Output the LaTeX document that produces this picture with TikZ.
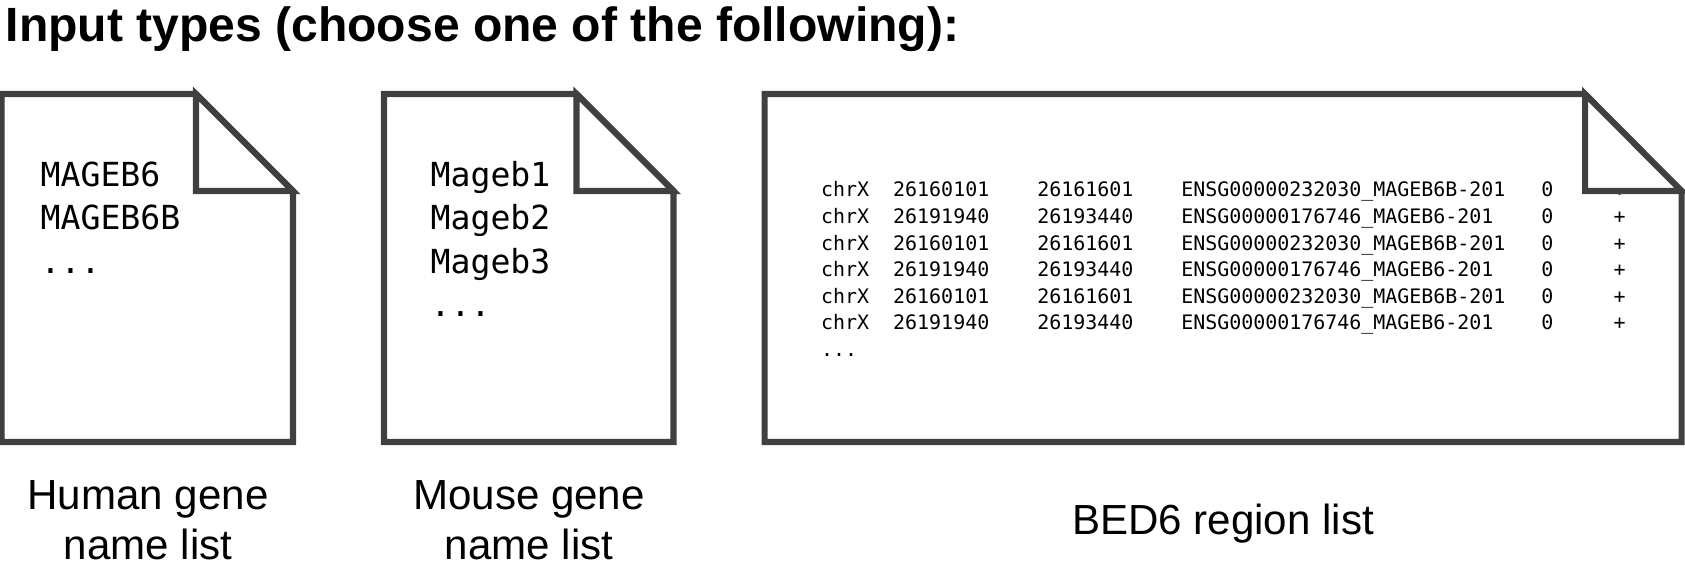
\documentclass[tikz,border=0pt]{standalone}
\usepackage{fontspec}
\setmainfont{Liberation Sans}
\setmonofont{DejaVu Sans Mono}

\begin{document}
\begin{tikzpicture}[
    x=0.01cm,y=-0.01cm,
    sheet/.style={draw=black!75,line width=1.72pt,fill=white,miter limit=10},
    heading/.style={anchor=base west,inner sep=0pt,font=\fontsize{13.67}{16}\selectfont\bfseries},
    caption/.style={anchor=base,inner sep=0pt,font=\fontsize{11.97}{14}\selectfont},
    genes/.style={anchor=base west,inner sep=0pt,font=\fontsize{9.42}{11}\selectfont\ttfamily},
    bedrow/.style={anchor=base west,inner sep=0pt,font=\fontsize{5.67}{7}\selectfont\ttfamily}
]
\useasboundingbox (0,0) rectangle (1685,573);

% === Title ===
\node[heading] (title) at (5,42) {Input types (choose one of the following):};

% === Sheets ===
\foreach \lft/\fld/\rgt in {1.5/196/293, 384/576.5/673.5, 764.7/1585/1681.5}
    \draw[sheet] (\lft,94) -- (\fld,94) -- (\rgt,191) -- (\rgt,442) -- (\lft,442) -- cycle;

% === Human gene names ===
\node[genes] (hA) at (40,186) {MAGEB6};
\node[genes] (hB) at (40,229) {MAGEB6B};
\node[genes] (hC) at (40,273) {...};

% === Mouse gene names ===
\node[genes] (mA) at (430,186) {Mageb1};
\node[genes] (mB) at (430,229) {Mageb2};
\node[genes] (mC) at (430,273) {Mageb3};
\node[genes] (mD) at (430,317) {...};

% === BED6 rows ===
\node[bedrow] (bA) at (820.5,197) {chrX~~26160101~~~~26161601~~~~ENSG00000232030\_MAGEB6B-201~~~0~~~~~+};
\node[bedrow] (bB) at (820.5,224) {chrX~~26191940~~~~26193440~~~~ENSG00000176746\_MAGEB6-201~~~~0~~~~~+};
\node[bedrow] (bC) at (820.5,250) {chrX~~26160101~~~~26161601~~~~ENSG00000232030\_MAGEB6B-201~~~0~~~~~+};
\node[bedrow] (bD) at (820.5,276) {chrX~~26191940~~~~26193440~~~~ENSG00000176746\_MAGEB6-201~~~~0~~~~~+};
\node[bedrow] (bE) at (820.5,303) {chrX~~26160101~~~~26161601~~~~ENSG00000232030\_MAGEB6B-201~~~0~~~~~+};
\node[bedrow] (bF) at (820.5,329) {chrX~~26191940~~~~26193440~~~~ENSG00000176746\_MAGEB6-201~~~~0~~~~~+};
\node[bedrow] (bG) at (820.5,356) {...};

% === Folded corners (on top of the text) ===
\foreach \fld/\rgt in {196/293, 576.5/673.5, 1585/1681.5}
    \draw[sheet] (\fld,94) -- (\rgt,191) -- (\fld,191) -- cycle;

% === Captions ===
\node[caption] (capHa) at (148,509) {Human gene};
\node[caption] (capHb) at (148,559) {name list};
\node[caption] (capMa) at (529,509) {Mouse gene};
\node[caption] (capMb) at (529,559) {name list};
\node[caption] (capB) at (1223,534) {BED6 region list};

\end{tikzpicture}
\end{document}
